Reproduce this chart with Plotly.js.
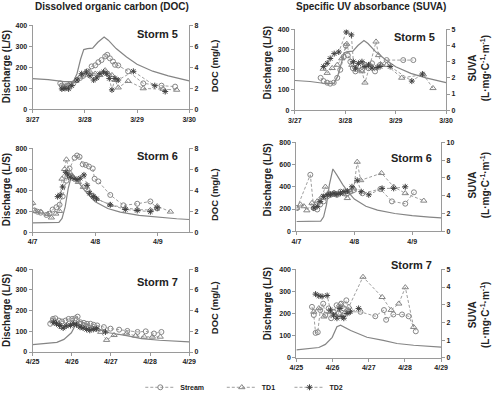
<!DOCTYPE html>
<html><head><meta charset="utf-8">
<script src="https://cdn.plot.ly/plotly-3.0.1.min.js"></script>
<style>html,body{margin:0;padding:0;background:#fff}#chart{width:494px;height:402px}</style>
</head><body><div id="chart"></div>
<script>
// ---- tick labels (days since start of each storm window) ----
const s5Ticks = ['3/27','3/28','3/29','3/30'];
const s6Ticks = ['4/7','4/8','4/9'];
const s7Ticks = ['4/25','4/26','4/27','4/28','4/29'];

// ---- discharge [day, L/S] ----
const s5Discharge = [[0,147],[0.3,142],[0.6,132],[0.78,132],[0.85,170],[0.92,240],[0.98,285],[1.05,290],[1.15,292],[1.25,320],[1.37,345],[1.45,330],[1.6,290],[1.8,250],[2.0,215],[2.3,182],[2.6,160],[3.0,136]];
const s6Discharge = [[0,88],[0.3,88],[0.42,92],[0.47,130],[0.52,240],[0.57,420],[0.63,560],[0.7,505],[0.8,420],[0.9,350],[1.0,290],[1.2,225],[1.4,190],[1.7,160],[2.0,140],[2.3,127],[2.5,120]];
const s7Discharge = [[0,36],[0.39,44],[0.62,47],[0.8,61],[0.99,93],[1.12,141],[1.22,148],[1.5,124],[1.95,93],[2.4,79],[2.78,65],[3.24,57],[4.0,49]];

// ---- DOC mg/L [day, value] ----
const s5DocStream = [[0.53,2.48],[0.56,2.26],[0.59,2.08],[0.62,2.17],[0.66,2.26],[0.72,2.39],[0.78,2.48],[0.85,2.79],[0.91,3.0],[0.97,3.2],[1.05,3.63],[1.13,4.1],[1.2,4.2],[1.26,4.5],[1.32,4.7],[1.39,5.05],[1.43,5.2],[1.48,4.87],[1.54,4.56],[1.58,4.25],[1.64,4.19],[1.83,3.63],[2.12,2.48],[2.47,2.26],[2.73,2.17]];
const s5DocTD1 = [[0.59,2.0],[0.69,2.33],[0.82,2.7],[0.91,3.1],[1.01,3.3],[1.1,3.57],[1.2,3.4],[1.29,3.26],[1.39,3.72],[1.45,3.4],[1.52,3.26],[1.58,2.8],[1.64,2.08],[1.83,2.7],[2.12,2.0],[2.5,1.95],[2.76,1.86]];
const s5DocTD2 = [[0.56,1.95],[0.62,2.0],[0.69,1.95],[0.75,2.26],[0.85,2.8],[0.94,3.4],[1.03,3.57],[1.1,3.2],[1.17,2.8],[1.23,3.0],[1.29,3.4],[1.36,3.57],[1.42,3.4],[1.47,2.95],[1.52,1.86],[1.58,2.95],[1.64,2.8],[1.93,3.63],[2.34,2.26],[2.54,1.7]];
const s6DocStream = [[0.03,2.06],[0.08,1.94],[0.13,1.85],[0.22,1.63],[0.27,1.75],[0.32,2.15],[0.38,2.37],[0.43,2.6],[0.48,3.4],[0.54,4.9],[0.59,6.06],[0.67,7.08],[0.71,7.3],[0.75,7.17],[0.8,6.46],[0.85,6.4],[0.9,6.25],[0.96,6.06],[0.99,5.08],[1.05,4.83],[1.24,3.54],[1.45,2.55],[1.67,2.7],[1.88,2.92],[1.99,2.25]];
const s6DocTD1 = [[0,2.77],[0.05,2.0],[0.13,1.94],[0.24,1.7],[0.3,1.38],[0.37,1.75],[0.43,2.0],[0.47,5.08],[0.51,6.0],[0.54,6.92],[0.59,5.7],[0.65,5.23],[0.73,4.77],[0.81,4.3],[0.89,4.0],[0.97,3.48],[1.02,3.17],[1.24,2.6],[1.48,2.3],[1.67,2.15],[1.88,2.1],[1.99,2.46],[2.2,1.94]];
const s6DocTD2 = [[0.4,3.38],[0.44,3.54],[0.48,4.3],[0.53,5.7],[0.56,5.45],[0.6,5.23],[0.66,5.08],[0.71,5.0],[0.76,5.14],[0.82,5.45],[0.87,4.46],[0.91,3.7],[0.97,3.38],[1.02,3.17],[1.24,2.6],[1.48,2.15],[1.67,2.06],[1.88,1.94],[1.99,2.3]];
const s7DocStream = [[0.45,2.73],[0.52,3.2],[0.58,3.26],[0.67,3.04],[0.75,2.95],[0.84,3.04],[0.92,3.2],[1.01,3.2],[1.09,3.26],[1.15,3.42],[1.22,2.88],[1.31,2.82],[1.39,2.73],[1.48,2.73],[1.56,2.63],[1.65,2.57],[1.82,2.41],[1.99,2.26],[2.21,2.16],[2.42,2.04],[2.68,1.94],[2.89,2.0],[3.1,1.79],[3.29,1.94]];
const s7DocTD1 = [[0.5,3.04],[0.58,2.88],[0.67,2.73],[0.75,2.41],[0.88,2.63],[1.01,2.82],[1.14,2.73],[1.26,2.51],[1.39,2.41],[1.52,2.32],[1.65,2.19],[1.74,1.94],[1.89,1.16],[2.08,1.63],[2.4,1.79],[2.63,1.57],[2.85,1.47],[3.06,1.47],[3.26,1.47]];
const s7DocTD2 = [[0.54,2.88],[0.61,2.73],[0.69,2.57],[0.78,2.32],[0.86,2.51],[0.97,2.57],[1.05,2.73],[1.12,2.63],[1.21,2.41],[1.29,2.32],[1.38,2.19],[1.46,2.1],[1.55,2.19],[1.63,2.26],[1.86,1.94]];

// ---- SUVA L·mg C-1·m-1 [day, value] ----
const s5SuvaStream = [[0.51,2.0],[0.57,1.8],[0.64,1.7],[0.7,1.64],[0.77,1.7],[0.84,2.0],[0.9,2.5],[0.97,3.3],[1.01,4.0],[1.05,3.4],[1.1,3.0],[1.15,2.6],[1.2,2.4],[1.26,2.7],[1.33,2.5],[1.39,2.8],[1.46,2.6],[1.53,2.9],[1.59,2.4],[1.69,2.8],[1.82,3.1],[2.15,3.1],[2.35,3.1]];
const s5SuvaTD1 = [[0.56,2.56],[0.64,2.3],[0.74,2.6],[0.84,2.8],[0.93,3.2],[1.03,4.1],[1.13,2.8],[1.23,2.5],[1.33,2.4],[1.39,1.7],[1.49,2.8],[1.61,4.24],[1.66,3.4],[1.72,2.8],[1.82,2.8],[2.12,2.0],[2.55,2.2],[2.74,1.36]];
const s5SuvaTD2 = [[0.57,2.7],[0.64,2.9],[0.7,3.2],[0.78,3.5],[0.87,3.6],[1.02,4.84],[1.12,4.66],[1.16,3.0],[1.2,2.6],[1.26,2.9],[1.33,3.0],[1.39,2.7],[1.46,2.8],[1.53,2.6],[1.63,2.64],[1.69,2.7],[1.89,2.7],[2.32,1.8],[2.53,2.24]];
const s6SuvaStream = [[0.01,2.6],[0.24,6.35],[0.3,2.6],[0.36,2.45],[0.41,3.0],[0.47,3.36],[0.53,3.9],[0.59,4.1],[0.65,4.27],[0.7,4.1],[0.76,4.45],[0.82,4.27],[0.88,4.27],[0.93,4.45],[0.99,4.63],[1.14,4.27],[1.45,4.74],[1.65,3.36],[1.88,3.1],[2.03,4.38]];
const s6SuvaTD1 = [[0,2.63],[0.07,3.0],[0.13,2.8],[0.18,2.34],[0.27,3.18],[0.36,3.36],[0.44,3.9],[0.5,5.0],[0.56,4.27],[0.65,4.1],[0.76,4.27],[0.88,3.72],[0.93,4.45],[0.99,4.82],[1.05,7.8],[1.11,5.73],[1.47,6.53],[1.68,5.0],[1.88,4.27],[2.2,3.43]];
const s6SuvaTD2 = [[0.3,2.63],[0.36,2.8],[0.41,3.36],[0.47,3.9],[0.53,4.1],[0.59,4.16],[0.65,4.27],[0.7,4.16],[0.76,4.27],[0.82,4.45],[0.88,4.52],[0.96,5.0],[1.05,5.73],[1.12,4.45],[1.25,4.1],[1.48,4.82],[1.68,4.82],[1.88,5.0]];
const s7SuvaStream = [[0.43,2.88],[0.48,2.42],[0.53,1.41],[0.59,1.45],[0.66,2.7],[0.74,3.06],[0.8,2.42],[0.89,2.79],[0.96,2.24],[1.03,2.6],[1.11,2.97],[1.17,2.51],[1.24,3.06],[1.31,2.79],[1.38,3.25],[1.45,2.6],[1.77,2.6],[2.18,2.35],[2.42,2.7],[2.48,2.15],[2.68,2.45],[2.92,2.45],[3.1,2.35],[3.3,1.5]];
const s7SuvaTD1 = [[0.48,2.6],[0.62,2.8],[0.76,2.33],[0.94,2.6],[1.08,2.42],[1.22,3.06],[1.35,2.6],[1.45,2.88],[1.84,4.57],[2.37,3.43],[2.62,2.7],[2.83,3.06],[3.01,3.98],[3.24,1.74]];
const s7SuvaTD2 = [[0.53,3.6],[0.62,3.5],[0.71,3.47],[0.85,3.52],[0.94,2.7],[1.03,2.42],[1.12,2.24],[1.2,2.79],[1.26,2.33],[1.31,2.24],[1.4,2.51],[1.49,2.6],[1.72,2.79]];

// ---- build ----
const GRAY = '#858585', DARK = '#404040', AX = '#9a9a9a';
const FONT = 'Liberation Sans, Arial, sans-serif';
const xs = a => a.map(p => p[0]);
const ys = a => a.map(p => p[1]);

const panels = [
  {n:1, q:s5Discharge, st:s5DocStream, t1:s5DocTD1, t2:s5DocTD2, ticks:s5Ticks, xr:[0,3], qr:[0,400], qd:100, rr:[0,8], rd:2, xd:[0.066,0.383], yd:[0.721,0.935]},
  {n:2, q:s5Discharge, st:s5SuvaStream, t1:s5SuvaTD1, t2:s5SuvaTD2, ticks:s5Ticks, xr:[0,3], qr:[0,400], qd:100, rr:[0,5], rd:1, xd:[0.597,0.903], yd:[0.719,0.925]},
  {n:3, q:s6Discharge, st:s6DocStream, t1:s6DocTD1, t2:s6DocTD2, ticks:s6Ticks, xr:[0,2.5], qr:[0,800], qd:200, rr:[0,8], rd:2, xd:[0.066,0.383], yd:[0.408,0.622]},
  {n:4, q:s6Discharge, st:s6SuvaStream, t1:s6SuvaTD1, t2:s6SuvaTD2, ticks:s6Ticks, xr:[0,2.5], qr:[0,800], qd:200, rr:[0,10], rd:2, xd:[0.6,0.893], yd:[0.410,0.637]},
  {n:5, q:s7Discharge, st:s7DocStream, t1:s7DocTD1, t2:s7DocTD2, ticks:s7Ticks, xr:[0,4], qr:[0,400], qd:100, rr:[0,8], rd:2, xd:[0.066,0.383], yd:[0.102,0.313]},
  {n:6, q:s7Discharge, st:s7SuvaStream, t1:s7SuvaTD1, t2:s7SuvaTD2, ticks:s7Ticks, xr:[0,4], qr:[0,400], qd:100, rr:[0,5], rd:1, xd:[0.6,0.893], yd:[0.087,0.313]}
];

const traces = [];
const layout = {
  width:494, height:402, margin:{l:0,r:0,t:0,b:0},
  paper_bgcolor:'#fff', plot_bgcolor:'rgba(0,0,0,0)',
  font:{family:FONT, color:'#222', size:8},
  annotations:[]
};
const axBase = {showline:true, linecolor:AX, linewidth:1, ticks:'outside', ticklen:3, tickcolor:AX,
  showgrid:false, zeroline:false, tickfont:{size:7, family:FONT, color:'#222', weight:'bold'}, fixedrange:true};

panels.forEach(p => {
  const xName = p.n === 1 ? 'x' : 'x' + p.n;
  const yL = 'y' + (2*p.n - 1 === 1 ? '' : (2*p.n - 1));
  const yR = 'y' + (2*p.n);
  traces.push({x:xs(p.q), y:ys(p.q), xaxis:xName, yaxis:yL, mode:'lines', line:{color:GRAY, width:1.2}, showlegend:false, hoverinfo:'skip'});
  const first = p.n === 1;
  traces.push({x:xs(p.st), y:ys(p.st), xaxis:xName, yaxis:yR, mode:'lines+markers', name:'Stream',
    line:{color:GRAY, width:0.8, dash:'3px,2px'}, marker:{symbol:'circle-open', size:5, color:GRAY, line:{width:1}},
    showlegend:first, legend:'legend'});
  traces.push({x:xs(p.t1), y:ys(p.t1), xaxis:xName, yaxis:yR, mode:'lines+markers', name:'TD1',
    line:{color:GRAY, width:0.8, dash:'3px,2px'}, marker:{symbol:'triangle-up-open', size:5.5, color:GRAY, line:{width:1}},
    showlegend:first, legend:'legend2'});
  traces.push({x:xs(p.t2), y:ys(p.t2), xaxis:xName, yaxis:yR, mode:'lines+markers', name:'TD2',
    line:{color:GRAY, width:0.8, dash:'3px,2px'}, marker:{symbol:'asterisk-open', size:5, color:DARK, line:{width:1, color:DARK}},
    showlegend:first, legend:'legend3'});

  const xKey = p.n === 1 ? 'xaxis' : 'xaxis' + p.n;
  const yLKey = 'yaxis' + (2*p.n - 1 === 1 ? '' : (2*p.n - 1));
  const yRKey = 'yaxis' + (2*p.n);
  layout[xKey] = Object.assign({}, axBase, {domain:p.xd, anchor:yL, range:p.xr,
    tickvals:p.ticks.map((t,i)=>i), ticktext:p.ticks});
  layout[yLKey] = Object.assign({}, axBase, {domain:p.yd, anchor:xName, range:p.qr, dtick:p.qd, tick0:0});
  layout[yRKey] = Object.assign({}, axBase, {overlaying:yL, side:'right', anchor:xName, range:p.rr, dtick:p.rd, tick0:0});
});

const legBase = {orientation:'h', y:0.012, yanchor:'middle', xanchor:'left', font:{size:7, family:FONT, color:'#222', weight:'bold'},
  bgcolor:'rgba(0,0,0,0)', itemwidth:30, tracegroupgap:0};
layout.legend = Object.assign({}, legBase, {x:0.284});
layout.legend2 = Object.assign({}, legBase, {x:0.449});
layout.legend3 = Object.assign({}, legBase, {x:0.586});

const A = (text, x, y, opts) => layout.annotations.push(Object.assign({
  text, x, y, xref:'paper', yref:'paper', showarrow:false, xanchor:'center', yanchor:'middle',
  font:{family:FONT, size:10, color:'#222'}}, opts||{}));
const px = v => v/494, py = v => 1 - v/402;

A('<b>Dissolved organic carbon (DOC)</b>', px(112), py(7), {font:{family:FONT,size:10,color:'#222'}});
A('<b>Specific UV absorbance (SUVA)</b>', px(371), py(7), {font:{family:FONT,size:10,color:'#222'}});

const storms = [['Storm 5',157,35,414,38],['Storm 6',157,160,411,162],['Storm 7',157,289,411,272]];
storms.forEach(s => {
  A('<b>'+s[0]+'</b>', px(s[1]), py(s[2]), {font:{family:FONT,size:11,color:'#222'}});
  A('<b>'+s[0]+'</b>', px(s[3]), py(s[4]), {font:{family:FONT,size:11,color:'#222'}});
});

const rowsL = [69, 195, 319];
const rowsR = [65, 185, 312];
const rowsDoc = [68, 200, 316];
const rowsSuva = [70, 190, 323];
rowsL.forEach(y => A('<b>Discharge (L/S)</b>', px(6), py(y), {textangle:-90}));
rowsR.forEach(y => A('<b>Discharge (L/S)</b>', px(267), py(y), {textangle:-90}));
rowsDoc.forEach(y => A('<b>DOC (mg/L)</b>', px(214), py(y), {textangle:-90, font:{family:FONT,size:9.5,color:'#222'}}));
rowsSuva.forEach(y => A('<b>SUVA</b><br><b>(L·mg·C<sup>-1</sup>·m<sup>-1</sup>)</b>', px(479), py(y), {textangle:-90, font:{family:FONT,size:10,color:'#222'}}));

Plotly.newPlot('chart', traces, layout, {staticPlot:true, displayModeBar:false});
</script>
</body></html>
